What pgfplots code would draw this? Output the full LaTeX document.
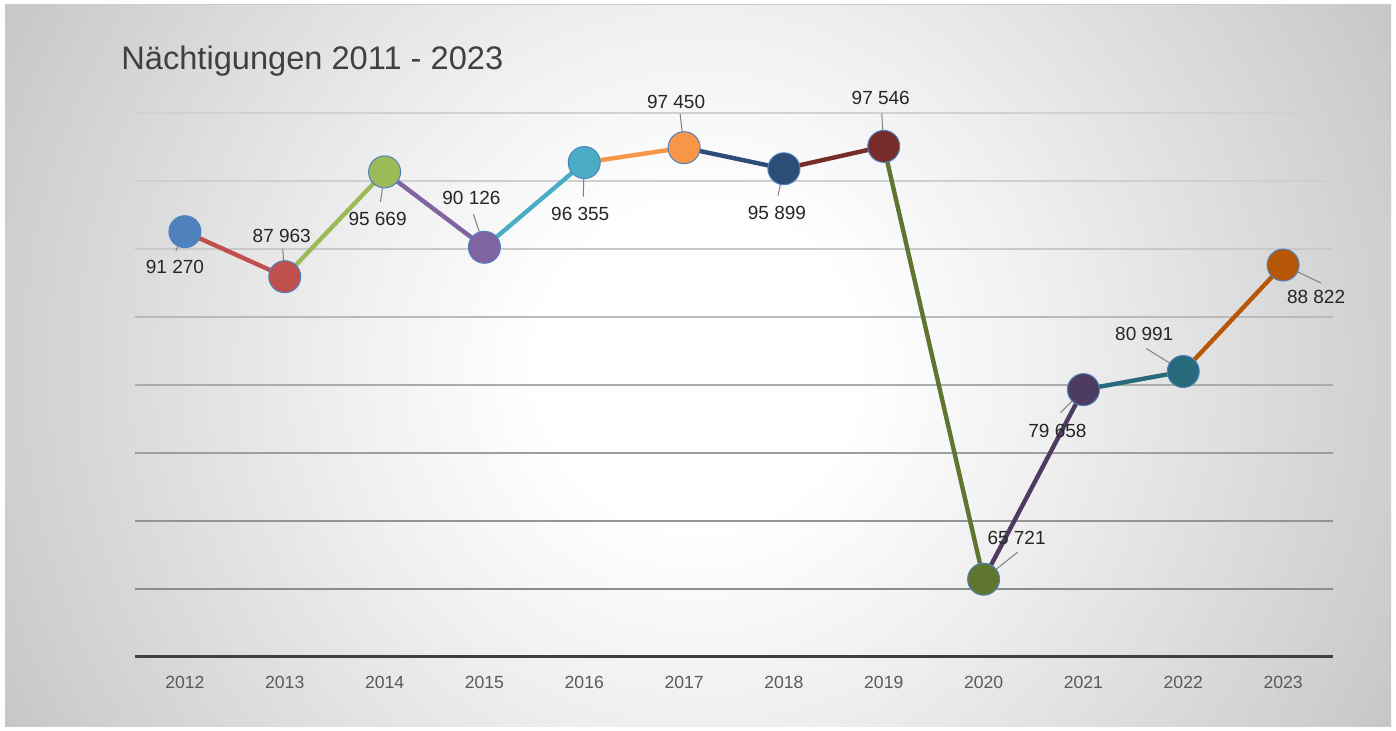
\documentclass[border=0pt]{standalone}
\usepackage{fontspec}
\setmainfont{Liberation Sans}
\usepackage{pgfplots}
\pgfplotsset{compat=1.18}
\definecolor{c1}{HTML}{4F81BD}
\definecolor{c2}{HTML}{C0504D}
\definecolor{c3}{HTML}{9BBB59}
\definecolor{c4}{HTML}{8064A2}
\definecolor{c5}{HTML}{4BACC6}
\definecolor{c6}{HTML}{F79646}
\definecolor{c7}{HTML}{2C4D75}
\definecolor{c8}{HTML}{772C2A}
\definecolor{c9}{HTML}{5F7530}
\definecolor{c10}{HTML}{4D3B62}
\definecolor{c11}{HTML}{276A7C}
\definecolor{c12}{HTML}{B65708}
\pgfdeclareradialshading{bg}{\pgfpoint{0bp}{0bp}}{color(0bp)=(white); color(5bp)=(white); color(11bp)=(black!6); color(22bp)=(black!19); color(25bp)=(black!23); color(50bp)=(black!23)}
\newcommand{\seg}[5]{\addplot[#1, line width=2.2pt, forget plot] coordinates {(#2,#3) (#4,#5)};}
\newcommand{\mk}[3]{\addplot[only marks, mark=*, mark size=8pt, mark options={fill=#1, draw=c1, line width=0.5pt}, forget plot] coordinates {(#2,#3)};}
\newcommand{\lab}[7]{\draw[black!50, line width=0.5pt] (axis cs:#1,#2) -- ++(#3pt,#4pt);
  \node[font=\fontsize{9.5}{11}\selectfont, text=black!85, inner sep=0pt] at ([shift={(#5pt,#6pt)}]axis cs:#1,#2) {#7};}
\newcommand{\grid}[2]{\draw[#1, line width=0.7pt] (axis cs:-0.5,#2) -- (axis cs:11.5,#2);}
\begin{document}
\begin{tikzpicture}
\path[use as bounding box] (0,0) rectangle (698pt,365.5pt);
\fill[white] (0,0) rectangle (698pt,365.5pt);
\begin{scope}
\clip (2.5pt,2pt) rectangle (695.5pt,363pt);
\shade[shading=bg] (-51pt,-217.5pt) rectangle (749pt,582.5pt);
\end{scope}
\draw[black!20, line width=0.5pt] (2.5pt,363pt) -- (695.5pt,363pt);
\node[anchor=base west, inner sep=0pt, font=\fontsize{16.3}{19}\selectfont, text=black!75] at (60.5pt,330.5pt) {Nächtigungen 2011 - 2023};
\begin{axis}[
  at={(67.5pt,37pt)}, anchor=south west,
  scale only axis, width=599pt, height=272pt,
  xmin=-0.5, xmax=11.5, ymin=60000, ymax=100000,
  axis line style={draw=none},
  xtick={0,...,11},
  xticklabels={2012,2013,2014,2015,2016,2017,2018,2019,2020,2021,2022,2023},
  ytick=\empty,
  major tick length=0pt,
  xticklabel style={font=\fontsize{8.8}{10}\selectfont, text=black!65, anchor=north, yshift=-6pt},
  clip=false,
]
\grid{black!18}{100000}
\grid{black!19}{95000}
\grid{black!21}{90000}
\grid{black!27}{85000}
\grid{black!33}{80000}
\grid{black!38}{75000}
\grid{black!42}{70000}
\grid{black!45}{65000}
\draw[black!75, line width=1.5pt] (axis cs:-0.5,60000) -- (axis cs:11.5,60000);
\seg{c2}{0}{91270}{1}{87963}
\seg{c3}{1}{87963}{2}{95669}
\seg{c4}{2}{95669}{3}{90126}
\seg{c5}{3}{90126}{4}{96355}
\seg{c6}{4}{96355}{5}{97450}
\seg{c7}{5}{97450}{6}{95899}
\seg{c8}{6}{95899}{7}{97546}
\seg{c9}{7}{97546}{8}{65721}
\seg{c10}{8}{65721}{9}{79658}
\seg{c11}{9}{79658}{10}{80991}
\seg{c12}{10}{80991}{11}{88822}
\mk{c1}{0}{91270}
\mk{c2}{1}{87963}
\mk{c3}{2}{95669}
\mk{c4}{3}{90126}
\mk{c5}{4}{96355}
\mk{c6}{5}{97450}
\mk{c7}{6}{95899}
\mk{c8}{7}{97546}
\mk{c9}{8}{65721}
\mk{c10}{9}{79658}
\mk{c11}{10}{80991}
\mk{c12}{11}{88822}
\lab{0}{91270}{-4.5}{-9.5}{-5}{-17.5}{91 270}
\lab{1}{87963}{-1}{14}{-1.5}{20.5}{87 963}
\lab{2}{95669}{-2}{-15}{-3.5}{-23.5}{95 669}
\lab{3}{90126}{-5.5}{16.5}{-6.5}{24.5}{90 126}
\lab{4}{96355}{-0.5}{-17}{-2}{-25.5}{96 355}
\lab{5}{97450}{-2}{17}{-4}{23}{97 450}
\lab{6}{95899}{-3}{-13.5}{-3.5}{-22}{95 899}
\lab{7}{97546}{-1}{16.5}{-1.5}{24}{97 546}
\lab{8}{65721}{17}{13.5}{16.5}{20.5}{65 721}
\lab{9}{79658}{-11.5}{-11.5}{-13}{-20.5}{79 658}
\lab{10}{80991}{-18.5}{11.5}{-19.5}{19}{80 991}
\lab{11}{88822}{19}{-9}{16.5}{-16}{88 822}
\end{axis}
\end{tikzpicture}
\end{document}
